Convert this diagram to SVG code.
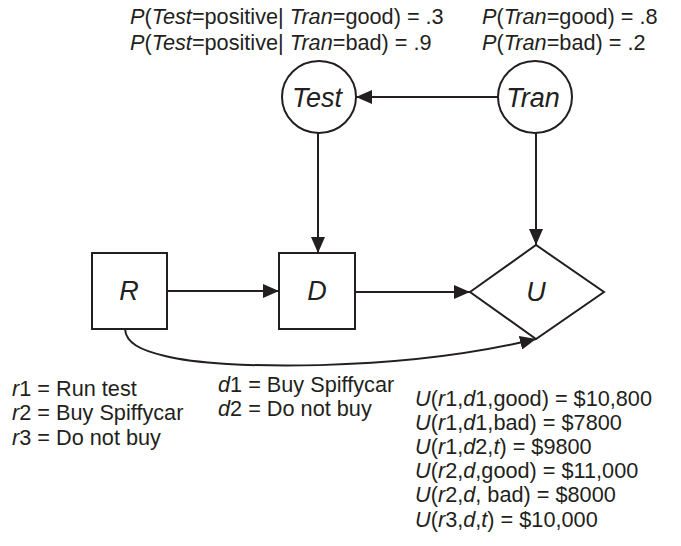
<svg xmlns="http://www.w3.org/2000/svg" width="681" height="546" viewBox="0 0 681 546">
<style>
text{font-family:"Liberation Sans",Arial,sans-serif;font-size:21.7px;fill:#231f20}
.i{font-style:italic}
.lbl{font-style:italic;font-size:27px;text-anchor:middle}
.node{fill:#fff;stroke:#231f20;stroke-width:2}
.edge{fill:none;stroke:#231f20;stroke-width:2}
</style>
<defs>
<marker id="ah" viewBox="0 0 16 14" refX="16" refY="7" markerWidth="16" markerHeight="14" markerUnits="userSpaceOnUse" orient="auto">
<path d="M0,0 L16,7 L0,14 Z" fill="#231f20"/>
</marker>
</defs>
<g id="top-text">
<text x="130" y="24"><tspan class="i">P</tspan>(<tspan class="i">Test</tspan>=positive| <tspan class="i">Tran</tspan>=good) = .3</text>
<text x="130" y="50"><tspan class="i">P</tspan>(<tspan class="i">Test</tspan>=positive| <tspan class="i">Tran</tspan>=bad) = .9</text>
<text x="482" y="24"><tspan class="i">P</tspan>(<tspan class="i">Tran</tspan>=good) = .8</text>
<text x="482" y="50"><tspan class="i">P</tspan>(<tspan class="i">Tran</tspan>=bad) = .2</text>
</g>
<g id="connectors">
<line class="edge" x1="498" y1="97" x2="356" y2="97" marker-end="url(#ah)"/>
<line class="edge" x1="318" y1="133" x2="318" y2="253" marker-end="url(#ah)"/>
<line class="edge" x1="536" y1="133" x2="536" y2="245" marker-end="url(#ah)"/>
<line class="edge" x1="167" y1="291" x2="279" y2="291" marker-end="url(#ah)"/>
<line class="edge" x1="355" y1="292" x2="470" y2="292" marker-end="url(#ah)"/>
<path class="edge" d="M125,329 C126,343 140,350 165,356 C220,370 400,372 536,339" marker-end="url(#ah)"/>
</g>
<g id="Test"><ellipse class="node" cx="319" cy="97" rx="37" ry="36"/><text class="lbl" x="317" y="107">Test</text></g>
<g id="Tran"><ellipse class="node" cx="535" cy="97" rx="37" ry="36"/><text class="lbl" x="533" y="107">Tran</text></g>
<g id="R"><rect class="node" x="92" y="253" width="75" height="76"/><text class="lbl" x="129" y="300">R</text></g>
<g id="D"><rect class="node" x="279" y="253" width="76" height="76"/><text class="lbl" x="317" y="300">D</text></g>
<g id="U"><path class="node" d="M470,292 L536,245 L604,292 L536,339 Z"/><text class="lbl" x="536" y="301">U</text></g>
<g id="legend-r">
<text x="12" y="396"><tspan class="i">r</tspan>1 = Run test</text>
<text x="12" y="420"><tspan class="i">r</tspan>2 = Buy Spiffycar</text>
<text x="12" y="445"><tspan class="i">r</tspan>3 = Do not buy</text>
</g>
<g id="legend-d">
<text x="218" y="392"><tspan class="i">d</tspan>1 = Buy Spiffycar</text>
<text x="218" y="416"><tspan class="i">d</tspan>2 = Do not buy</text>
</g>
<g id="utility">
<text x="415" y="406"><tspan class="i">U</tspan>(<tspan class="i">r</tspan>1,<tspan class="i">d</tspan>1,good) = $10,800</text>
<text x="415" y="430"><tspan class="i">U</tspan>(<tspan class="i">r</tspan>1,<tspan class="i">d</tspan>1,bad) = $7800</text>
<text x="415" y="454"><tspan class="i">U</tspan>(<tspan class="i">r</tspan>1,<tspan class="i">d</tspan>2,<tspan class="i">t</tspan>) = $9800</text>
<text x="415" y="478"><tspan class="i">U</tspan>(<tspan class="i">r</tspan>2,<tspan class="i">d</tspan>,good) = $11,000</text>
<text x="415" y="502"><tspan class="i">U</tspan>(<tspan class="i">r</tspan>2,<tspan class="i">d</tspan>, bad) = $8000</text>
<text x="415" y="527"><tspan class="i">U</tspan>(<tspan class="i">r</tspan>3,<tspan class="i">d</tspan>,<tspan class="i">t</tspan>) = $10,000</text>
</g>
</svg>
